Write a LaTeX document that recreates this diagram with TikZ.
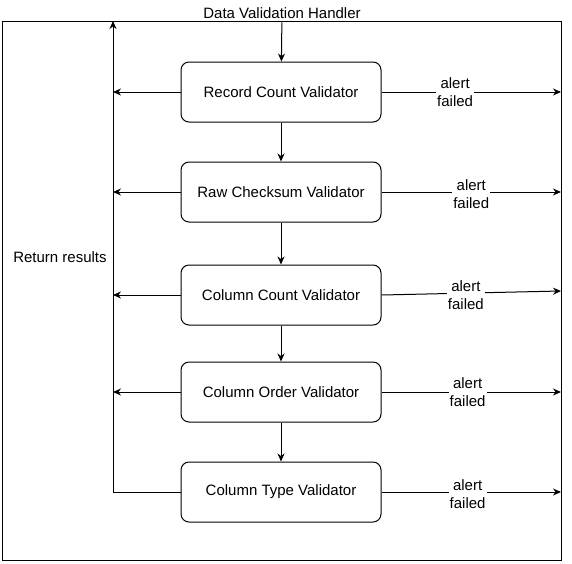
\documentclass[tikz,border=0pt]{standalone}
\usepackage{fontspec}
\setmainfont{Liberation Sans}
\usetikzlibrary{arrows.meta}
\begin{document}
\begin{tikzpicture}[x=1pt,y=-1pt,line width=1pt,
  font=\fontsize{15}{17}\selectfont,
  vbox/.style={draw, rounded corners=8pt, minimum width=200pt, minimum height=60pt, inner sep=0pt},
  arr/.style={-{Stealth[length=8pt,width=7pt]}},
  lab/.style={fill=white, align=center, inner sep=1pt, font=\fontsize{15}{18}\selectfont}]
\useasboundingbox (0,0) rectangle (572,563);
\node[draw, anchor=north west, minimum width=559pt, minimum height=539pt, inner sep=0pt] (frame) at (2,21) {};
\node (title) at (282,13) {Data Validation Handler};
\node (ret) at (60,257) {Return results};
\node[vbox] (b1) at (281,92) {Record Count Validator};
\node[vbox] (b2) at (281,192) {Raw Checksum Validator};
\node[vbox] (b3) at (281,295) {Column Count Validator};
\node[vbox] (b4) at (281,392) {Column Order Validator};
\node[vbox] (b5) at (281,492) {Column Type Validator};
\coordinate (top) at (113,21);
\coordinate (l1) at (113,92);
\coordinate (l2) at (113,192);
\coordinate (l3) at (113,295);
\coordinate (l4) at (113,392);
\coordinate (l5) at (113,492);
\coordinate (r1) at (561,92);
\coordinate (r2) at (561,192);
\coordinate (r3) at (561,291);
\coordinate (r4) at (561,392);
\coordinate (r5) at (561,492);
\draw[arr] (title) -- (b1);
\draw[arr] (b1) -- (b2);
\draw[arr] (b2) -- (b3);
\draw[arr] (b3) -- (b4);
\draw[arr] (b4) -- (b5);
\draw[arr] (b1.west) -- (l1);
\draw[arr] (b2.west) -- (l2);
\draw[arr] (b3.west) -- (l3);
\draw[arr] (b4.west) -- (l4);
\draw[arr] (b5.west) -- (l5) -- (top);
\draw[arr] (b1.east) -- node[lab, pos=0.41] {alert\\failed} (r1);
\draw[arr] (b2.east) -- node[lab, pos=0.5, yshift=-2pt] {alert\\failed} (r2);
\draw[arr] (b3.east) -- node[lab, pos=0.47, yshift=-2pt] {alert\\failed} (r3);
\draw[arr] (b4.east) -- node[lab, pos=0.48] {alert\\failed} (r4);
\draw[arr] (b5.east) -- node[lab, pos=0.48, yshift=-2pt] {alert\\failed} (r5);
\end{tikzpicture}
\end{document}
